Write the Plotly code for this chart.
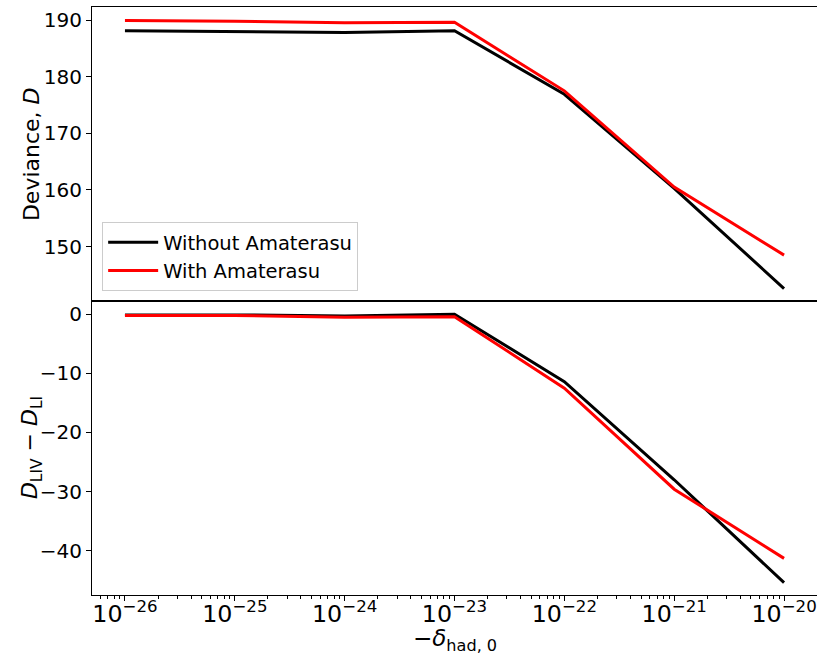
import plotly.graph_objects as go
from plotly.subplots import make_subplots

delta = [1e-26, 1e-25, 1e-24, 1e-23, 1e-22, 1e-21, 1e-20]
dev_without = [188.1, 188.0, 187.8, 188.1, 176.9, 160.3, 142.6]
dev_with = [189.9, 189.8, 189.5, 189.6, 177.5, 160.5, 148.5]
diff_without = [-0.1, -0.1, -0.3, 0.0, -11.4, -28.0, -45.4]
diff_with = [-0.2, -0.2, -0.5, -0.4, -12.5, -29.6, -41.3]

FONT = "DejaVu Sans"

fig = make_subplots(rows=2, cols=1, shared_xaxes=True, vertical_spacing=0)

fig.add_trace(go.Scatter(x=delta, y=dev_without, mode="lines", name="Without Amaterasu",
                         line=dict(color="black", width=3)), row=1, col=1)
fig.add_trace(go.Scatter(x=delta, y=dev_with, mode="lines", name="With Amaterasu",
                         line=dict(color="red", width=3)), row=1, col=1)
fig.add_trace(go.Scatter(x=delta, y=diff_without, mode="lines", showlegend=False,
                         line=dict(color="black", width=3)), row=2, col=1)
fig.add_trace(go.Scatter(x=delta, y=diff_with, mode="lines", showlegend=False,
                         line=dict(color="red", width=3)), row=2, col=1)

xcommon = dict(type="log", range=[-26.3, -19.7], showgrid=False, zeroline=False,
               showline=True, linecolor="black", linewidth=1, mirror=True,
               dtick=1, exponentformat="power",
               tickfont=dict(family=FONT, size=19, color="black"))
fig.update_xaxes(**xcommon, ticks="", showticklabels=False, row=1, col=1)
fig.update_xaxes(**xcommon, ticks="outside", ticklen=5, tickcolor="black",
                 showticklabels=True, ticklabeloverflow="allow", ticklabelstandoff=-7,
                 minor=dict(ticks="outside", ticklen=3, tickcolor="black", dtick="D1"),
                 row=2, col=1)

ycommon = dict(showgrid=False, zeroline=False, showline=True, linecolor="black", linewidth=1,
               ticks="outside", ticklen=5, tickcolor="black", dtick=10,
               tickfont=dict(family=FONT, size=20, color="black"))
fig.update_yaxes(**ycommon, range=[140.4, 192.3], row=1, col=1)
fig.update_yaxes(**ycommon, range=[-47.5, 2.25], row=2, col=1)

title_font = dict(family=FONT, size=22, color="black")
fig.add_annotation(text="Deviance, <i>D</i>", xref="paper", yref="paper",
                   x=-0.084, y=0.75, xanchor="center", yanchor="middle",
                   textangle=-90, showarrow=False, font=title_font)
fig.add_annotation(text="<i>D</i><sub>LIV</sub> − <i>D</i><sub>LI</sub>", xref="paper", yref="paper",
                   x=-0.084, y=0.25, xanchor="center", yanchor="middle",
                   textangle=-90, showarrow=False, font=title_font)
fig.add_annotation(text="−<i>δ</i><sub>had, 0</sub>", xref="paper", yref="paper",
                   x=0.5, y=-0.077, xanchor="center", yanchor="middle",
                   showarrow=False, font=dict(family=FONT, size=23, color="black"))

fig.update_layout(
    width=817, height=653,
    margin=dict(l=92, r=0, t=7, b=58),
    paper_bgcolor="white", plot_bgcolor="white",
    font=dict(family=FONT, color="black"),
    legend=dict(x=0.014, y=0.517, xanchor="left", yanchor="bottom",
                bgcolor="white", bordercolor="#cccccc", borderwidth=1,
                font=dict(family=FONT, size=19.5, color="black"),
                itemwidth=50, tracegroupgap=0),
)
fig.update_yaxes(automargin=False)
fig.update_xaxes(automargin=False)

fig.write_html("out.html", config={"displayModeBar": False},
               post_script="document.body.style.margin='0';document.body.style.overflow='hidden';")
